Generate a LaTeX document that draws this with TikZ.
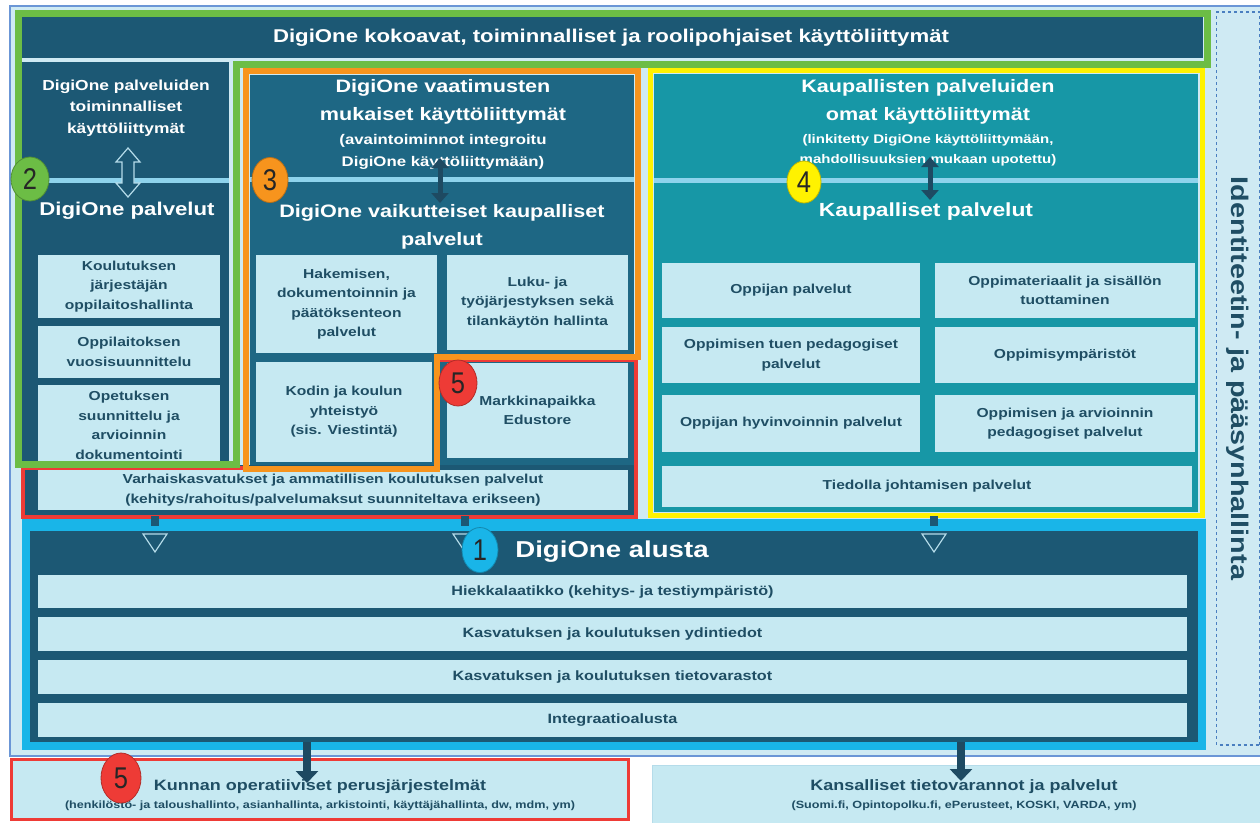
\documentclass[tikz,border=0pt]{standalone}
\usepackage{fontspec}
\setmainfont{Liberation Sans}[FakeStretch=1.2]
\newfontfamily\numfont{Liberation Sans}[FakeStretch=0.85]
\usetikzlibrary{arrows.meta,shapes.geometric}
\definecolor{navy}{HTML}{1C5874}
\definecolor{colthree}{HTML}{1E6784}
\definecolor{tealfour}{HTML}{1797A6}
\definecolor{lbox}{HTML}{C6E9F2}
\definecolor{bgl}{HTML}{CFEAF3}
\definecolor{lline}{HTML}{8ED3EC}
\definecolor{tdark}{HTML}{1F4E64}
\definecolor{grn}{HTML}{6CBD45}
\definecolor{org}{HTML}{F7941D}
\definecolor{ylw}{HTML}{FFF200}
\definecolor{rdd}{HTML}{EE3B36}
\definecolor{cyn}{HTML}{19B5E8}
\definecolor{bblue}{HTML}{6B96D6}
\definecolor{dblue}{HTML}{4A7FC0}
\definecolor{darr}{HTML}{1E4A62}
\definecolor{hout}{HTML}{B5DCEA}
\newcommand\bx[7]{\node[#1,minimum width={(#5)-(#3)},minimum height={(#6)-(#4)}] (#2) at ({((#3)+(#5))/2},{((#4)+(#6))/2}) {#7};}
\begin{document}
\begin{tikzpicture}[x=1pt,y=-1pt,
  lb/.style={fill=lbox,inner sep=0pt,outer sep=0pt,align=center,text=tdark,font=\bfseries\fontsize{13}{19.5}\selectfont},
  prow/.style={lb,font=\bfseries\fontsize{13.5}{16}\selectfont},
  hd/.style={text=white,align=center,inner sep=0pt,font=\bfseries\fontsize{18}{27.5}\selectfont},
  hdsub/.style={text=white,align=center,inner sep=0pt,font=\bfseries\fontsize{14}{22}\selectfont},
  num/.style={ellipse,fill=#1,draw=#1!75!black,line width=0.8pt,inner sep=0pt,text=black!85,font=\numfont\fontsize{30}{30}\selectfont},
  darkdbl/.style={draw=darr,line width=5pt,{Triangle[length=10pt,width=17pt]}-{Triangle[length=10pt,width=17pt]}},
  darkdown/.style={draw=darr,line width=8pt,-{Triangle[length=12pt,width=22pt]}},
  hollow/.style={draw=hout,fill=navy,line width=1.2pt,line join=miter},
  stub/.style={draw=navy,line width=8pt}]
\useasboundingbox (0,0) rectangle (1260,822);
\fill[white] (0,0) rectangle (1260,822);
% outer frame
\draw[bblue,fill=bgl,line width=2pt] (10,6) rectangle (1272,756);
% identity box
\node[draw=dblue,dashed,line width=1.2pt,fill=bgl,rotate=-90,minimum width=733,minimum height=43,text=tdark,font=\bfseries\fontsize{24}{24}\selectfont] (idm) at (1238,378.5) {Identiteetin- ja pääsynhallinta};
% title bar
\node[fill=navy,minimum width=1184,minimum height=41,inner sep=0pt,text=white,font=\bfseries\fontsize{18.5}{20}\selectfont] (title) at (611,37.5) {DigiOne kokoavat, toiminnalliset ja roolipohjaiset käyttöliittymät};
% column backgrounds
\fill[navy] (22,62) rectangle (229,463);
\fill[colthree] (250,75) rectangle (634,515);
\fill[navy] (25,465) rectangle (634,515);
\fill[tealfour] (654,74) rectangle (1198,512);
\fill[lline] (22,178) rectangle (229,183);
\fill[lline] (250,177) rectangle (634,182);
\fill[lline] (654,178) rectangle (1198,183);
% column 2
\node[hdsub,font=\bfseries\fontsize{14.5}{21.5}\selectfont] (h2a) at (126,108) {DigiOne palveluiden\\toiminnalliset\\käyttöliittymät};
\node[hd,font=\bfseries\fontsize{18.5}{22}\selectfont] (h2b) at (127,211) {DigiOne palvelut};
\coordinate (a2t) at (128,148);
\draw[hollow] (a2t) -- ++(12,14) -- ++(-6,0) -- ++(0,21) -- ++(6,0) -- ++(-12,14) -- ++(-12,-14) -- ++(6,0) -- ++(0,-21) -- ++(-6,0) -- cycle;
\bx{lb}{k1}{38}{255}{220}{318}{Koulutuksen\\järjestäjän\\oppilaitoshallinta}
\bx{lb}{k2}{38}{326}{220}{378}{Oppilaitoksen\\vuosisuunnittelu}
\bx{lb}{k3}{38}{385}{220}{466}{Opetuksen\\suunnittelu ja\\arvioinnin\\dokumentointi}
% column 3
\node[hd] (h3a) at (443,102) {DigiOne vaatimusten\\mukaiset käyttöliittymät};
\node[hdsub] (h3s) at (443,152) {(avaintoiminnot integroitu\\DigiOne käyttöliittymään)};
\node[hd] (h3b) at (442,227) {DigiOne vaikutteiset kaupalliset\\palvelut};
\coordinate (a3t) at (440,158); \coordinate (a3b) at (440,203);
\draw[darkdbl] (a3t) -- (a3b);
\bx{lb}{hk}{256}{255}{437}{353}{Hakemisen,\\dokumentoinnin ja\\päätöksenteon\\palvelut}
\bx{lb}{lk}{447}{255}{628}{350}{Luku- ja\\työjärjestyksen sekä\\tilankäytön hallinta}
\bx{lb}{kk}{256}{362}{432}{462}{Kodin ja koulun\\yhteistyö\\(sis. Viestintä)}
\bx{lb}{mk}{447}{363}{628}{458}{Markkinapaikka\\Edustore}
\bx{lb}{vk}{38}{470}{628}{510}{Varhaiskasvatukset ja ammatillisen koulutuksen palvelut\\(kehitys/rahoitus/palvelumaksut suunniteltava erikseen)}
% column 4
\node[hd] (h4a) at (928,102) {Kaupallisten palveluiden\\omat käyttöliittymät};
\node[hdsub,font=\bfseries\fontsize{12.5}{20}\selectfont] (h4s) at (928,150) {(linkitetty DigiOne käyttöliittymään,\\mahdollisuuksien mukaan upotettu)};
\node[hd,font=\bfseries\fontsize{19}{22}\selectfont] (h4b) at (926,212) {Kaupalliset palvelut};
\coordinate (a4t) at (930,157); \coordinate (a4b) at (930,200);
\draw[darkdbl] (a4t) -- (a4b);
\bx{lb}{o1}{662}{263}{920}{318}{Oppijan palvelut}
\bx{lb}{o2}{935}{263}{1195}{318}{Oppimateriaalit ja sisällön\\tuottaminen}
\bx{lb}{o3}{662}{327}{920}{383}{Oppimisen tuen pedagogiset\\palvelut}
\bx{lb}{o4}{935}{327}{1195}{383}{Oppimisympäristöt}
\bx{lb}{o5}{662}{395}{920}{452}{Oppijan hyvinvoinnin palvelut}
\bx{lb}{o6}{935}{395}{1195}{452}{Oppimisen ja arvioinnin\\pedagogiset palvelut}
\bx{lb}{td}{662}{466}{1192}{507}{Tiedolla johtamisen palvelut}
% frames
\draw[rdd,line width=4pt,line join=miter] (23,468) -- (437,468) -- (437,360) -- (636,360) -- (636,517) -- (23,517) -- cycle;
\draw[org,line width=6pt,line join=miter] (246,71) -- (638,71) -- (638,357) -- (437,357) -- (437,469) -- (246,469) -- cycle;
\draw[grn,line width=7pt,line join=miter] (18,13.5) -- (1207,13.5) -- (1207,64) -- (236,64) -- (236,464) -- (18,464) -- cycle;
\draw[ylw,line width=5pt] (650,70) rectangle (1202,515);
% platform
\fill[cyn] (22,519) rectangle (1206,750);
\fill[navy] (30,531) rectangle (1198,742);
\node[text=white,inner sep=0pt,font=\bfseries\fontsize{23}{25}\selectfont] (pt) at (612,552) {DigiOne alusta};
\bx{prow}{p1}{38}{575}{1187}{608}{Hiekkalaatikko (kehitys- ja testiympäristö)}
\bx{prow}{p2}{38}{617}{1187}{651}{Kasvatuksen ja koulutuksen ydintiedot}
\bx{prow}{p3}{38}{660}{1187}{694}{Kasvatuksen ja koulutuksen tietovarastot}
\bx{prow}{p4}{38}{703}{1187}{737}{Integraatioalusta}
% hollow down arrows
\coordinate (d1) at (155,516); \coordinate (d2) at (465,516); \coordinate (d3) at (934,516);
\foreach \d in {d1,d2,d3}{
  \draw[stub] (\d) -- ++(0,10);
  \draw[hollow] (\d) ++(-12,18) -- ++(24,0) -- ++(-12,18) -- cycle;
}
% bottom boxes
\node[draw=rdd,line width=3pt,fill=lbox,minimum width=617,minimum height=60,inner sep=0pt] (kun) at (319.5,789.5) {};
\node[draw=hout,line width=1pt,fill=lbox,minimum width=612,minimum height=58,inner sep=0pt] (kan) at (958,794) {};
\node[text=tdark,inner sep=0pt,font=\bfseries\fontsize{15}{16}\selectfont] (kunt) at (320,787) {Kunnan operatiiviset perusjärjestelmät};
\node[text=tdark,inner sep=0pt,font=\bfseries\fontsize{10.5}{12}\selectfont] (kuns) at (320,806) {(henkilöstö- ja taloushallinto, asianhallinta, arkistointi, käyttäjähallinta, dw, mdm, ym)};
\node[text=tdark,inner sep=0pt,font=\bfseries\fontsize{15}{16}\selectfont] (kant) at (964,787) {Kansalliset tietovarannot ja palvelut};
\node[text=tdark,inner sep=0pt,font=\bfseries\fontsize{10.5}{12}\selectfont] (kans) at (964,806) {(Suomi.fi, Opintopolku.fi, ePerusteet, KOSKI, VARDA, ym)};
\coordinate (b1s) at (307,742); \coordinate (b1e) at (307,783);
\coordinate (b2s) at (961,742); \coordinate (b2e) at (961,781);
\draw[darkdown] (b1s) -- (b1e);
\draw[darkdown] (b2s) -- (b2e);
% numbers
\node[num=grn,minimum width=38,minimum height=44] (n2) at (30,179) {2};
\node[num=org,minimum width=36,minimum height=45] (n3) at (270,180) {3};
\node[num=ylw,minimum width=34,minimum height=42] (n4) at (804,182) {4};
\node[num=rdd,minimum width=38,minimum height=46] (n5a) at (458,383) {5};
\node[num=cyn,minimum width=36,minimum height=45] (n1) at (480,550) {1};
\node[num=rdd,minimum width=40,minimum height=50] (n5b) at (121,778) {5};
\end{tikzpicture}
\end{document}
